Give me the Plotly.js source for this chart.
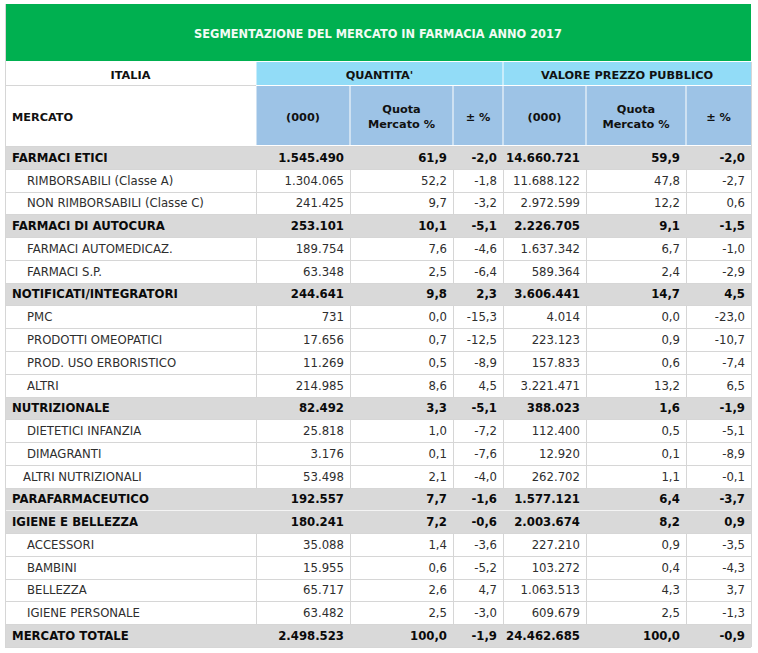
<!DOCTYPE html>
<html><head><meta charset="utf-8">
<script src="https://cdn.plot.ly/plotly-3.0.1.min.js"></script>
<style>html,body{margin:0;padding:0;background:#fff}</style>
</head><body><div id="chart" style="width:758px;height:653px"></div>
<script>
const chartTitle = "SEGMENTAZIONE DEL MERCATO IN FARMACIA ANNO 2017";
const groupHeaders = ["ITALIA", "QUANTITA'", "VALORE PREZZO PUBBLICO"];
const columnHeaders = ["MERCATO", "(000)", "Quota<br>Mercato %", "± %", "(000)", "Quota<br>Mercato %", "± %"];

const segments = ["FARMACI ETICI", "RIMBORSABILI (Classe A)", "NON RIMBORSABILI (Classe C)",
  "FARMACI DI AUTOCURA", "FARMACI AUTOMEDICAZ.", "FARMACI S.P.",
  "NOTIFICATI/INTEGRATORI", "PMC", "PRODOTTI OMEOPATICI", "PROD. USO ERBORISTICO", "ALTRI",
  "NUTRIZIONALE", "DIETETICI INFANZIA", "DIMAGRANTI", "ALTRI NUTRIZIONALI",
  "PARAFARMACEUTICO", "IGIENE E BELLEZZA", "ACCESSORI", "BAMBINI", "BELLEZZA", "IGIENE PERSONALE",
  "MERCATO TOTALE"];
// 0 = category (bold, grey), 1 = sub item, 2 = sub item with small indent
const segmentLevels = [0,1,1, 0,1,1, 0,1,1,1,1, 0,1,1,2, 0, 0,1,1,1,1, 0];

const quantity = [1545490, 1304065, 241425, 253101, 189754, 63348, 244641, 731, 17656, 11269, 214985,
  82492, 25818, 3176, 53498, 192557, 180241, 35088, 15955, 65717, 63482, 2498523];
const quantityShare = [61.9, 52.2, 9.7, 10.1, 7.6, 2.5, 9.8, 0.0, 0.7, 0.5, 8.6,
  3.3, 1.0, 0.1, 2.1, 7.7, 7.2, 1.4, 0.6, 2.6, 2.5, 100.0];
const quantityChange = [-2.0, -1.8, -3.2, -5.1, -4.6, -6.4, 2.3, -15.3, -12.5, -8.9, 4.5,
  -5.1, -7.2, -7.6, -4.0, -1.6, -0.6, -3.6, -5.2, 4.7, -3.0, -1.9];
const value = [14660721, 11688122, 2972599, 2226705, 1637342, 589364, 3606441, 4014, 223123, 157833, 3221471,
  388023, 112400, 12920, 262702, 1577121, 2003674, 227210, 103272, 1063513, 609679, 24462685];
const valueShare = [59.9, 47.8, 12.2, 9.1, 6.7, 2.4, 14.7, 0.0, 0.9, 0.6, 13.2,
  1.6, 0.5, 0.1, 1.1, 6.4, 8.2, 0.9, 0.4, 4.3, 2.5, 100.0];
const valueChange = [-2.0, -2.7, 0.6, -1.5, -1.0, -2.9, 4.5, -23.0, -10.7, -7.4, 6.5,
  -1.9, -5.1, -8.9, -0.1, -3.7, 0.9, -3.5, -4.3, 3.7, -1.3, -0.9];

function fmtInt(n) { return String(n).replace(/\B(?=(\d{3})+(?!\d))/g, '.'); }
function fmtDec(n) { return n.toFixed(1).replace('.', ','); }

// ---- geometry / style ----
const W = 758, H = 653;
const FONT = "DejaVu Sans";
const FS_BODY = 11.7, FS_HEAD = 11.3, FS_TITLE = 11.4;
const colEdges = [5, 256, 350, 453, 503, 586, 686, 751];
const groupEdges = [5, 256, 503, 751];
const yTitle = [4, 61], yGroup = [62, 85], yHead = [86, 145];
const bodyTop = 146, bodyBottom = 647;
const nRows = segments.length;
const rowH = (bodyBottom - bodyTop) / nRows;
const rowTop = i => bodyTop + i * rowH;
const rowMid = i => bodyTop + (i + 0.5) * rowH + 1.5;
const PAD = 6;
const indentPx = [7, 22, 18];

const GREEN = '#00b050', CYAN = '#92dcf7', BLUE = '#9dc3e6', GREY = '#d9d9d9', LINE = '#d6d6d6';

const isCat = segmentLevels.map(l => l === 0);
const bold = (s, i) => isCat[i] ? '<b>' + s + '</b>' : s;
const textColor = segmentLevels.map(l => l === 0 ? '#0a0a0a' : '#2e2e2e');

const numCols = [
  quantity.map(fmtInt), quantityShare.map(fmtDec), quantityChange.map(fmtDec),
  value.map(fmtInt), valueShare.map(fmtDec), valueChange.map(fmtDec)
];

// ---- shapes (cell backgrounds and rules) ----
const shapes = [];
function rect(xa, xb, ya, yb, fill) {
  shapes.push({ type: 'rect', xref: 'x', yref: 'y', x0: xa, x1: xb, y0: ya, y1: yb,
    fillcolor: fill, line: { width: 0 }, layer: 'below' });
}
function line(xa, ya, xb, yb, color) {
  shapes.push({ type: 'line', xref: 'x', yref: 'y', x0: xa, y0: ya, x1: xb, y1: yb,
    line: { color: color, width: 1 }, layer: 'below' });
}
// title band
rect(colEdges[0], colEdges[7], yTitle[0], yTitle[1], GREEN);
// group header row
line(groupEdges[0], yGroup[1] + 0.5, groupEdges[1], yGroup[1] + 0.5, LINE);
rect(groupEdges[1] + 0.5, groupEdges[2] - 0.5, yGroup[0], yGroup[1], CYAN);
rect(groupEdges[2] + 0.5, groupEdges[3], yGroup[0], yGroup[1], CYAN);
// column header row
for (let c = 1; c < 7; c++) rect(colEdges[c] + 0.5, colEdges[c + 1] - (c === 6 ? 0 : 0.5), yHead[0], yHead[1], BLUE);
// body rules
for (let c = 1; c < 7; c++) line(colEdges[c] + 0.5, bodyTop, colEdges[c] + 0.5, bodyBottom, LINE);
for (let i = 0; i <= nRows; i++) {
  const above = i > 0 ? isCat[i - 1] : false;
  const below = i < nRows ? isCat[i] : false;
  const y = Math.round(rowTop(i)) + 0.5;
  line(colEdges[0], y, colEdges[7], y, (above && below) ? '#f4f4f4' : LINE);
}
// category rows
segments.forEach((s, i) => {
  if (isCat[i]) rect(colEdges[0] + 1, colEdges[7], Math.round(rowTop(i)) + 1, Math.round(rowTop(i + 1)), GREY);
});
// outer left / right rules
line(colEdges[0] + 0.5, yTitle[0], colEdges[0] + 0.5, bodyBottom, LINE);
line(colEdges[7] + 0.5, yGroup[0], colEdges[7] + 0.5, bodyBottom, LINE);

// ---- text traces ----
const rowsY = segments.map((s, i) => rowMid(i));
const traces = [];
function textTrace(xs, ys, texts, pos, color, size) {
  traces.push({ type: 'scatter', mode: 'text', x: xs, y: ys, text: texts, textposition: pos,
    textfont: { family: FONT, size: size, color: color }, hoverinfo: 'skip', cliponaxis: false,
    showlegend: false });
}
// title
textTrace([(colEdges[0] + colEdges[7]) / 2], [(yTitle[0] + yTitle[1]) / 2 + 2.5], ['<b>' + chartTitle + '</b>'], 'middle center', '#f2fbf4', FS_TITLE);
// group headers
textTrace(groupHeaders.map((g, k) => (groupEdges[k] + groupEdges[k + 1]) / 2),
  groupHeaders.map(() => (yGroup[0] + yGroup[1]) / 2 + 3),
  groupHeaders.map(g => '<b>' + g + '</b>'), 'middle center', '#111111', FS_HEAD);
// column headers
textTrace([colEdges[0] + indentPx[0]], [(yHead[0] + yHead[1]) / 2 + 2.5], ['<b>' + columnHeaders[0] + '</b>'], 'middle right', '#111111', FS_HEAD);
textTrace(columnHeaders.slice(1).map((h, k) => (colEdges[k + 1] + colEdges[k + 2]) / 2),
  columnHeaders.slice(1).map(() => (yHead[0] + yHead[1]) / 2 + 2.5),
  columnHeaders.slice(1).map(h => '<b>' + h + '</b>'), 'middle center', '#111111', FS_HEAD);
// segment labels
textTrace(segmentLevels.map(l => colEdges[0] + indentPx[l]), rowsY,
  segments.map((s, i) => bold(s, i)), 'middle right', textColor, FS_BODY);
// numeric columns
numCols.forEach((col, k) => {
  textTrace(col.map(() => colEdges[k + 2] - PAD), rowsY, col.map((s, i) => bold(s, i)), 'middle left', textColor, FS_BODY);
});

const layout = {
  width: W, height: H,
  margin: { l: 0, r: 0, t: 0, b: 0 },
  paper_bgcolor: '#ffffff', plot_bgcolor: '#ffffff',
  xaxis: { range: [0, W], visible: false, fixedrange: true },
  yaxis: { range: [H, 0], visible: false, fixedrange: true },
  shapes: shapes,
  showlegend: false
};

Plotly.newPlot('chart', traces, layout, { displayModeBar: false, staticPlot: true });
</script>
</body></html>
